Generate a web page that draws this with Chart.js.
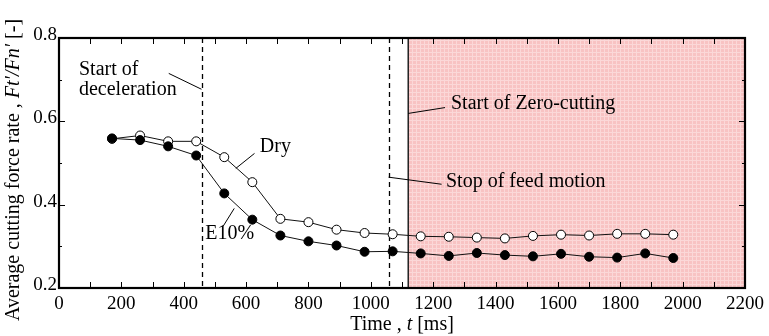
<!DOCTYPE html>
<html lang="en">
<head>
  <meta charset="UTF-8" />
  <title>Average cutting force rate</title>
  <script src="https://cdn.jsdelivr.net/npm/chart.js"></script>
  <style>
    body { margin: 0; background: #fff; }
    #chart { display: block; }
  </style>
</head>
<body>
<canvas id="chart" width="769" height="336"></canvas>

<script>
  // values
  const timeMs = [170, 260, 350, 440, 530, 620, 710, 800, 890, 980, 1070,
    1160, 1250, 1340, 1430, 1520, 1610, 1700, 1790, 1880, 1970];
  const dryRate = [0.558, 0.566, 0.552, 0.552, 0.514, 0.454, 0.366, 0.358, 0.340, 0.332, 0.329,
    0.324, 0.323, 0.321, 0.319, 0.325, 0.328, 0.326, 0.330, 0.330, 0.328];
  const e10Rate = [0.559, 0.555, 0.540, 0.518, 0.427, 0.364, 0.326, 0.312, 0.302, 0.287, 0.288,
    0.283, 0.277, 0.284, 0.279, 0.276, 0.282, 0.275, 0.273, 0.283, 0.272];

  const decelStart = 457;    // dashed line
  const feedStop = 1057;     // dashed line
  const zeroCutStart = 1120; // start of shaded zone
  const xMax = 2200;

  const noteTexts = ['Start of', 'deceleration', 'Dry', 'E10%', 'Start of Zero-cutting', 'Stop of feed motion'];
  const noteX = [64, 64, 644, 469, 1257, 1241];
  const noteY = [0.725, 0.675, 0.539, 0.331, 0.643, 0.455];

  const leaders = [
    [352, 0.715, 457, 0.677],
    [627, 0.523, 567, 0.487],
    [562, 0.391, 527, 0.349],
    [1120, 0.619, 1238, 0.633],
    [1057, 0.466, 1227, 0.449],
  ];

  const serif = 'Liberation Serif';

  function zonePattern(ctx) {
    const pc = document.createElement('canvas');
    pc.width = 4; pc.height = 4;
    const p = pc.getContext('2d');
    p.fillStyle = '#f8c3c3';
    p.fillRect(0, 0, 4, 4);
    p.fillStyle = '#fbd8d8';
    p.fillRect(0, 0, 4, 1);
    p.fillRect(0, 0, 1, 4);
    return ctx.createPattern(pc, 'repeat');
  }

  const decorPlugin = {
    id: 'decor',
    beforeDatasetsDraw(chart) {
      const { ctx, chartArea: a, scales: { x, y } } = chart;
      ctx.save();
      // shaded zero-cutting zone
      const zx = x.getPixelForValue(zeroCutStart);
      ctx.fillStyle = zonePattern(ctx);
      ctx.fillRect(zx, a.top, x.getPixelForValue(xMax) - zx, a.bottom - a.top);
      ctx.strokeStyle = '#222';
      ctx.lineWidth = 1.5;
      ctx.beginPath();
      ctx.moveTo(zx, a.top); ctx.lineTo(zx, a.bottom);
      ctx.stroke();

      // dashed markers
      ctx.setLineDash([5, 4]);
      ctx.lineWidth = 1.3;
      ctx.strokeStyle = '#000';
      [decelStart, feedStop].forEach((t) => {
        const px = Math.round(x.getPixelForValue(t)) + 0.5;
        ctx.beginPath();
        ctx.moveTo(px, a.top); ctx.lineTo(px, a.bottom);
        ctx.stroke();
      });
      ctx.setLineDash([]);

      // leader lines
      ctx.lineWidth = 1;
      leaders.forEach((l) => {
        ctx.beginPath();
        ctx.moveTo(x.getPixelForValue(l[0]), y.getPixelForValue(l[1]));
        ctx.lineTo(x.getPixelForValue(l[2]), y.getPixelForValue(l[3]));
        ctx.stroke();
      });

      // annotation texts
      ctx.fillStyle = '#000';
      ctx.font = '20px "' + serif + '"';
      ctx.textAlign = 'left';
      ctx.textBaseline = 'middle';
      noteTexts.forEach((t, i) => {
        ctx.fillText(t, x.getPixelForValue(noteX[i]), y.getPixelForValue(noteY[i]));
      });
      ctx.restore();
    },
    afterDraw(chart) {
      const { ctx, chartArea: a, scales: { x, y } } = chart;
      ctx.save();
      ctx.strokeStyle = '#000';

      // inward ticks on all four sides
      ctx.lineWidth = 1;
      ctx.beginPath();
      for (let t = 100; t < xMax; t += 100) {
        const px = Math.round(x.getPixelForValue(t)) + 0.5;
        ctx.moveTo(px, a.bottom); ctx.lineTo(px, a.bottom - 6);
        ctx.moveTo(px, a.top); ctx.lineTo(px, a.top + 6);
      }
      for (let k = 3; k < 8; k++) {
        const py = Math.round(y.getPixelForValue(k / 10)) + 0.5;
        const len = k % 2 === 0 ? 6 : 3;
        ctx.moveTo(a.left, py); ctx.lineTo(a.left + len, py);
        ctx.moveTo(a.right, py); ctx.lineTo(a.right - len, py);
      }
      ctx.stroke();

      // frame
      ctx.lineWidth = 2.2;
      ctx.strokeRect(a.left, a.top, a.right - a.left, a.bottom - a.top);

      // axis titles with italic symbols
      ctx.fillStyle = '#000';
      ctx.textBaseline = 'alphabetic';
      const fontFor = (it, size) => (it ? 'italic ' : '') + size + 'px "' + serif + '"';
      const parts = (list, size) => list.map(([s, it]) => {
        ctx.font = fontFor(it, size);
        return { s, it, w: ctx.measureText(s).width };
      });
      const drawParts = (ps, size, cx, cy) => {
        const total = ps.reduce((sum, p) => sum + p.w, 0);
        let cur = cx - total / 2;
        ps.forEach((p) => {
          ctx.font = fontFor(p.it, size);
          ctx.fillText(p.s, cur, cy);
          cur += p.w;
        });
      };

      const xp = parts([['Time , ', false], ['t', true], [' [ms]', false]], 20);
      drawParts(xp, 20, (a.left + a.right) / 2, 330);

      ctx.translate(19, 170);
      ctx.rotate(-Math.PI / 2);
      const yp = parts([['Average cutting force rate , ', false], ['Ft\u2032/Fn\u2032', true], [' [-]', false]], 20);
      drawParts(yp, 20, 0, 0);
      ctx.restore();
    },
  };

  new Chart(document.getElementById('chart'), {
    type: 'line',
    data: {
      datasets: [
        {
          label: 'E10%',
          data: timeMs.map((t, i) => ({ x: t, y: e10Rate[i] })),
          borderColor: '#111',
          borderWidth: 1,
          pointRadius: 4.5,
          pointBackgroundColor: '#000',
          pointBorderColor: '#000',
          pointBorderWidth: 1,
          order: 0,
        },
        {
          label: 'Dry',
          data: timeMs.map((t, i) => ({ x: t, y: dryRate[i] })),
          borderColor: '#111',
          borderWidth: 1,
          pointRadius: 4.5,
          pointBackgroundColor: '#fff',
          pointBorderColor: '#000',
          pointBorderWidth: 1,
          order: 1,
        },
      ],
    },
    options: {
      responsive: false,
      animation: false,
      layout: { padding: { top: 38, right: 21, left: 0, bottom: 0 } },
      plugins: { legend: { display: false }, tooltip: { enabled: false } },
      scales: {
        x: {
          type: 'linear',
          min: 0,
          max: xMax,
          grid: { display: false, drawTicks: false },
          border: { display: false },
          ticks: {
            stepSize: 200,
            autoSkip: false,
            maxRotation: 0,
            padding: 5,
            color: '#000',
            font: { family: serif, size: 19 },
            callback: (v) => String(v),
          },
          afterFit(scale) { scale.height = 48; },
        },
        y: {
          min: 0.2,
          max: 0.8,
          grid: { display: false, drawTicks: false },
          border: { display: false },
          ticks: {
            stepSize: 0.2,
            padding: 2,
            labelOffset: -3,
            color: '#000',
            font: { family: serif, size: 19 },
            callback: (v) => v.toFixed(1),
          },
          afterFit(scale) { scale.width = 59; },
        },
      },
    },
    plugins: [decorPlugin],
  });
</script>
</body>
</html>
